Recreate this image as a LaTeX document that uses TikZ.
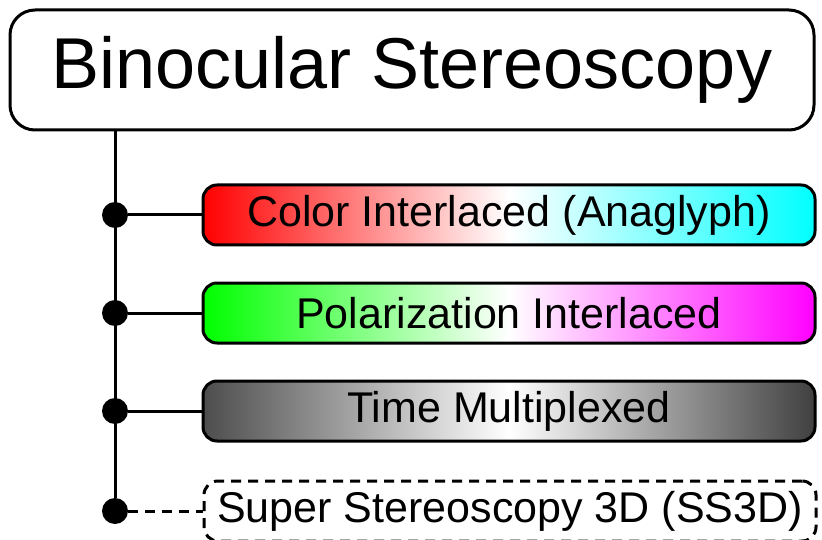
\documentclass[tikz,border=0pt]{standalone}
\usepackage{fontspec}
\setmainfont{Liberation Sans}
\tikzset{
    titlebox/.style={draw, line width=3pt, rounded corners=25pt, fill=white,
        minimum width=804pt, minimum height=120pt, font=\fontsize{72}{80}\selectfont},
    itembox/.style={draw, line width=3pt, rounded corners=14pt,
        minimum width=612pt, minimum height=60pt, font=\fontsize{43}{50}\selectfont},
    junction/.style={circle, fill=black, inner sep=0pt, minimum size=26pt},
    branch/.style={line width=3pt}
}
\begin{document}
\begin{tikzpicture}[x=1pt, y=-1pt]
    % page frame (822 x 540)
    \useasboundingbox (0,0) rectangle (822,540);
    \clip (0,0) rectangle (822,540);

    % Title
    \node[titlebox] (title) at (412,70) {Binocular Stereoscopy};

    % Junctions on the trunk
    \node[junction] (j1) at (115,215) {};
    \node[junction] (j2) at (115,313) {};
    \node[junction] (j3) at (115,411) {};
    \node[junction] (j4) at (115,511) {};

    % Branches
    \node[itembox, left color=red, right color=cyan, middle color=white] (color) at (509,215)
        {Color Interlaced (Anaglyph)};
    \node[itembox, left color=green, right color=magenta, middle color=white] (polar) at (509,313)
        {Polarization Interlaced};
    \node[itembox, left color=black!70, right color=black!75, middle color=white] (time) at (509,411)
        {Time Multiplexed};
    \node[itembox, dash pattern=on 10pt off 7pt] (ss3d) at (510,511)
        {Super Stereoscopy 3D (SS3D)};

    % Trunk and connectors
    \draw[branch] (title.south -| j1) -- (j4);
    \draw[branch] (j1) -- (color);
    \draw[branch] (j2) -- (polar);
    \draw[branch] (j3) -- (time);
    \draw[branch, dash pattern=on 10pt off 7pt] (j4) -- (ss3d);
\end{tikzpicture}
\end{document}
